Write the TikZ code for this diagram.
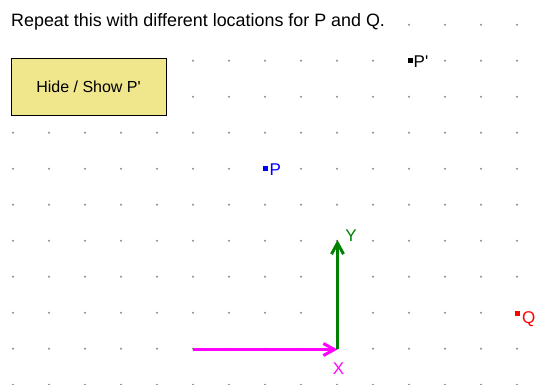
\documentclass[tikz,border=0pt]{standalone}
\usepackage{fontspec}
\setmainfont{Liberation Sans}
\usepackage{tikz}
\usetikzlibrary{arrows.meta, positioning}
\definecolor{btnfill}{RGB}{240,230,140}
\definecolor{dotgray}{RGB}{140,140,140}
\definecolor{vgreen}{RGB}{0,128,0}
\definecolor{vmagenta}{RGB}{255,0,255}

\begin{document}
\begin{tikzpicture}[x=1pt, y=-1pt,
    griddot/.style={fill=dotgray},
    pt/.style={inner sep=0pt, minimum size=5pt},
    lbl/.style={inner sep=0pt, font=\fontsize{17}{19}\selectfont},
    vec/.style={line width=3pt, -{Straight Barb[length=11pt, width=12pt]}}]
    \useasboundingbox (0,0) rectangle (550,385);

    % grid of dots
    \foreach \c in {11,...,14} \fill[griddot] (13+36*\c, 24.7) circle (1.1pt);
    \foreach \r in {1,2}
        \foreach \c in {5,...,14} \fill[griddot] (13+36*\c, 24.7+36*\r) circle (1.1pt);
    \foreach \r in {3,...,10}
        \foreach \c in {0,...,14} \fill[griddot] (13+36*\c, 24.7+36*\r) circle (1.1pt);

    \node[anchor=base west, inner sep=0pt, font=\fontsize{17.9}{20}\selectfont] (title) at (11,26.7)
        {Repeat this with different locations for P and Q.};

    \node[draw=black, fill=btnfill, minimum width=155pt, minimum height=57pt, font=\fontsize{16}{18}\selectfont]
        (btn) at (88.5,86.5) {Hide / Show P\textquotesingle};

    % points
    \node[pt, fill=black] (Pp) at (410,61) {};
    \node[lbl, anchor=west] at (413.5,62) {P\textquotesingle};
    \node[pt, fill=blue] (P) at (265,169) {};
    \node[lbl, anchor=west, text=blue] at (269.5,169.5) {P};
    \node[pt, fill=red] (Q) at (517.5,313.5) {};
    \node[lbl, anchor=north west, text=red] at (522,311.5) {Q};

    % vectors
    \coordinate (xs) at (193,349.5);
    \coordinate (O) at (337.5,349.5);
    \coordinate (ye) at (337.5,240);
    \draw[vec, vmagenta] (xs) -- (O);
    \draw[vec, vgreen] (O) -- (ye);
    \node[lbl, text=vmagenta] (X) at (338.5,369) {X};
    \node[lbl, text=vgreen] (Y) at (351,236) {Y};
\end{tikzpicture}
\end{document}
